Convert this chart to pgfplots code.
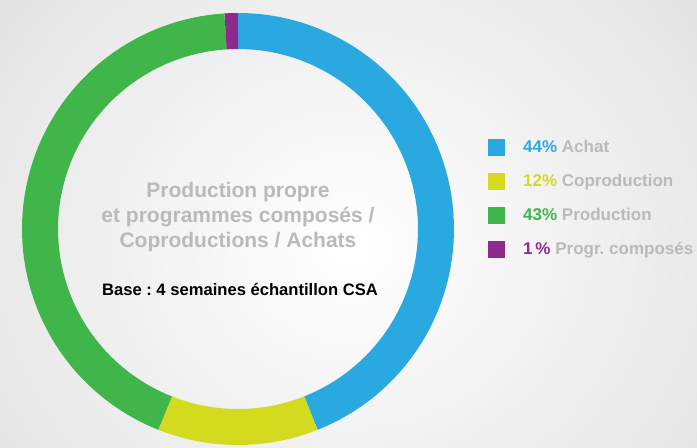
\documentclass[border=0pt]{standalone}
\usepackage{pgfplots}
\pgfplotsset{compat=1.18}
\usepackage{pgfplotstable}
\usepackage{fontspec}
\setmainfont{Liberation Sans}
\frenchspacing
\definecolor{cblue}{HTML}{2AA8E0}
\definecolor{cyellow}{HTML}{D4DB1E}
\definecolor{cgreen}{HTML}{3FB54A}
\definecolor{cpurple}{HTML}{8E2A8E}
\definecolor{cgray}{HTML}{BABABA}
\pgfplotstableread{
label pct
Achat 44
Coproduction 12
Production 43
Progr 1
}\shares
\pgfplotstablegetelem{0}{pct}\of\shares \let\pA\pgfplotsretval
\pgfplotstablegetelem{1}{pct}\of\shares \let\pB\pgfplotsretval
\pgfplotstablegetelem{2}{pct}\of\shares \let\pC\pgfplotsretval
\pgfplotstablegetelem{3}{pct}\of\shares \let\pD\pgfplotsretval
\pgfmathsetmacro\aA{90}
\pgfmathsetmacro\aB{\aA-3.6*\pA}
\pgfmathsetmacro\aC{\aB-3.6*\pB}
\pgfmathsetmacro\aD{\aC-3.6*\pC}
\pgfmathsetmacro\aE{\aD-3.6*\pD}
\newcommand\sw[1]{\fill[#1, draw=none, line width=0pt] (0bp,-8.5bp) rectangle (17bp,8.5bp); \path[draw=none] (0bp,0bp) -- (35bp,0bp);}
\begin{document}
\begin{tikzpicture}
\path[use as bounding box] (0,0) rectangle (697bp,448bp);
\clip (0,0) rectangle (697bp,448bp);
\shade[inner color=white, outer color=black!12] (-150bp,-250bp) rectangle (850bp,650bp);
\begin{axis}[x=1bp, y=1bp, xmin=0, xmax=697, ymin=0, ymax=448, hide axis, clip=false,
  legend cell align=left,
  legend style={at={(axis cs:488,309.5)}, anchor=north west, draw=none, fill=none,
    font=\bfseries\fontsize{17bp}{20bp}\selectfont, text=cgray, row sep=17bp,
    inner sep=0pt, nodes={inner sep=0pt}}]
\addplot[cblue, line width=36bp, domain=\aB:\aA, samples=120,
  legend image code/.code={\sw{cblue}}]
  ({238+198*cos(x)},{219+198*sin(x)});
\addlegendentry{\textcolor{cblue}{44\%} Achat}
\addplot[cyellow, line width=36bp, domain=\aC:\aB, samples=60,
  legend image code/.code={\sw{cyellow}}]
  ({238+198*cos(x)},{219+198*sin(x)});
\addlegendentry{\textcolor{cyellow}{12\%} Coproduction}
\addplot[cgreen, line width=36bp, domain=\aD:\aC, samples=120,
  legend image code/.code={\sw{cgreen}}]
  ({238+198*cos(x)},{219+198*sin(x)});
\addlegendentry{\textcolor{cgreen}{43\%} Production}
\addplot[cpurple, line width=36bp, domain=\aE:\aD, samples=10,
  legend image code/.code={\sw{cpurple}}]
  ({238+198*cos(x)},{219+198*sin(x)});
\addlegendentry{\textcolor{cpurple}{1\,\%} Progr. composés}
\node[text=cgray, font=\bfseries\fontsize{21bp}{25bp}\selectfont, align=center]
  at (axis cs:238,231) {Production propre\\et programmes composés /\\Coproductions / Achats};
\node[font=\bfseries\fontsize{16.6bp}{20bp}\selectfont] at (axis cs:240,159)
  {Base : 4 semaines échantillon CSA};
\end{axis}
\end{tikzpicture}
\end{document}
